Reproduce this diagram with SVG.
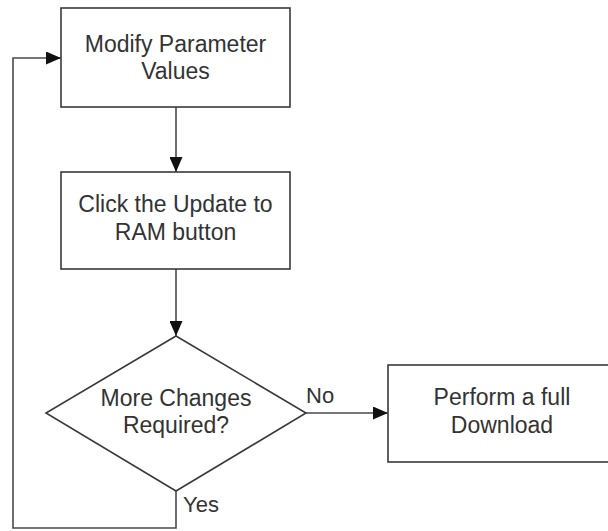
<svg xmlns="http://www.w3.org/2000/svg" width="608" height="531" viewBox="0 0 608 531">
<defs>
<style>
.box{fill:#fff;stroke:#3a3a3a;stroke-width:1.6}
.t{font-family:"Liberation Sans",Arial,sans-serif;font-size:23px;fill:#333;text-anchor:middle}
.lbl{font-family:"Liberation Sans",Arial,sans-serif;font-size:22px;fill:#333}
.c{fill:none;stroke:#4a4a4a;stroke-width:1.6}
</style>
<marker id="ah" markerWidth="15" markerHeight="13" refX="15" refY="6.5" orient="auto" markerUnits="userSpaceOnUse">
<path d="M0,0 L15,6.5 L0,13 Z" fill="#111"/>
</marker>
</defs>
<rect width="608" height="531" fill="#fff"/>
<g id="connectors">
<line class="c" x1="176" y1="107" x2="176" y2="172" marker-end="url(#ah)"/>
<line class="c" x1="176" y1="269" x2="176" y2="336" marker-end="url(#ah)"/>
<line class="c" x1="306" y1="413" x2="388" y2="413" marker-end="url(#ah)"/>
<polyline class="c" points="176,491 176,528 13,528 13,58 61,58" marker-end="url(#ah)"/>
<text class="lbl" x="306" y="403">No</text>
<text class="lbl" x="183" y="512">Yes</text>
</g>
<g id="modify">
<rect class="box" x="61" y="8" width="229" height="99"/>
<text class="t" x="175.5" y="52">Modify Parameter</text>
<text class="t" x="175.5" y="79">Values</text>
</g>
<g id="update">
<rect class="box" x="61" y="172" width="229" height="97"/>
<text class="t" x="175.5" y="212">Click the Update to</text>
<text class="t" x="175.5" y="240">RAM button</text>
</g>
<g id="decision">
<polygon class="box" points="176,336 306,413 176,491 46,413"/>
<text class="t" x="176" y="406">More Changes</text>
<text class="t" x="176" y="433">Required?</text>
</g>
<g id="download">
<rect class="box" x="388" y="365" width="229" height="97"/>
<text class="t" x="502" y="405">Perform a full</text>
<text class="t" x="502" y="433">Download</text>
</g>
</svg>
